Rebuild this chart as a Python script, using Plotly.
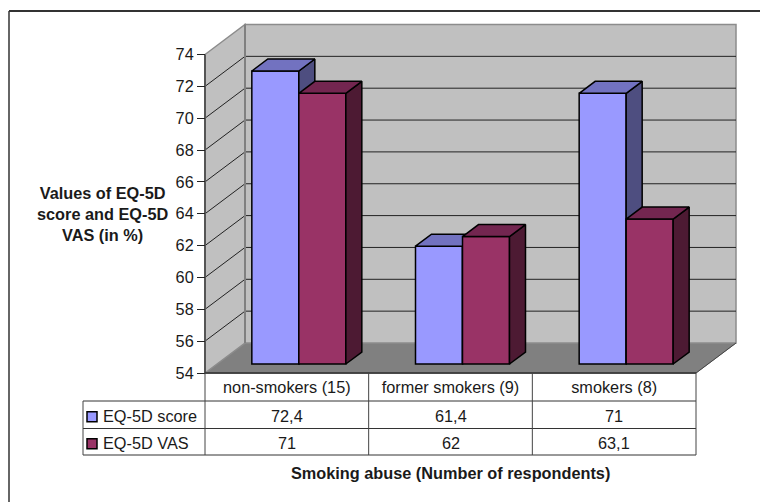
import plotly.graph_objects as go

categories = ["non-smokers (15)", "former smokers (9)", "smokers (8)"]
eq5d_score = [72.4, 61.4, 71]
eq5d_vas = [71, 62, 63.1]
series_names = ["EQ-5D score", "EQ-5D VAS"]
value_ticks = [54, 56, 58, 60, 62, 64, 66, 68, 70, 72, 74]

W, H = 760, 502
FRONT_LEFT, FRONT_RIGHT = 205, 696
FRONT_TOP, FRONT_BOTTOM = 54.5, 373
X_UNIT = (FRONT_RIGHT - FRONT_LEFT) / 3
Y_UNIT = (FRONT_BOTTOM - FRONT_TOP) / 20
FONT = "Liberation Sans"
TXT = "#1a1a1a"
TEXT_SIZE = 16.3

# oblique projection: one full unit of depth moves a point right and up
DEPTH_X = 40 / X_UNIT
DEPTH_Y = 30 / Y_UNIT
BAR_NEAR, BAR_FAR = 0.30, 0.70
BAR_W = 47 / X_UNIT


def px_x(px):
    return (px - FRONT_LEFT) / X_UNIT


def px_y(py):
    return 54 + (FRONT_BOTTOM - py) / Y_UNIT


def proj(x, y, depth):
    return x + DEPTH_X * depth, y + DEPTH_Y * depth


def polygon(points, fill, line="black", width=1.5, xaxis="x", yaxis="y"):
    xs = [p[0] for p in points] + [points[0][0]]
    ys = [p[1] for p in points] + [points[0][1]]
    return go.Scatter(x=xs, y=ys, mode="lines", fill="toself", fillcolor=fill,
                      line=dict(color=line, width=width), hoverinfo="skip",
                      showlegend=False, xaxis=xaxis, yaxis=yaxis)


def shape_poly(points, fill, line, width):
    path = "M" + " L".join(f"{x},{y}" for x, y in points) + " Z"
    return dict(type="path", path=path, xref="x", yref="y", layer="below",
                fillcolor=fill, line=dict(color=line, width=width))


def seg(x0, y0, x1, y1, color="black", width=1.0, layer="below"):
    return dict(type="line", x0=x0, y0=y0, x1=x1, y1=y1, xref="x", yref="y",
                layer=layer, line=dict(color=color, width=width))


shapes = []

# back wall, side wall and floor of the 3D box
y0, y1 = value_ticks[0], value_ticks[-1]
bl, tl = proj(0, y0, 1), proj(0, y1, 1)
br, tr = proj(3, y0, 1), proj(3, y1, 1)
shapes.append(shape_poly([(0, y0), bl, br, (3, y0)], "#808080", "#808080", 1))
shapes.append(shape_poly([bl, tl, tr, br], "#C0C0C0", "#8c8c8c", 1.5))
shapes.append(shape_poly([(0, y0), (0, y1), tl, bl], "#C0C0C0", "#8c8c8c", 1.5))

# gridlines run across the back wall and down the side wall
for v in value_ticks[1:-1]:
    shapes.append(seg(*proj(0, v, 1), *proj(3, v, 1), color="#222222", width=1))
for v in value_ticks[1:-1]:
    shapes.append(seg(0, v, *proj(0, v, 1), color="#222222", width=1))
shapes.append(seg(*bl, *tl, color="#808080", width=2))
shapes.append(seg(0, y0, 0, y1, color="#555555", width=2))
shapes.append(seg(0, y0, 3, y0, color="#444444", width=1.5))
shapes.append(seg(3, y0, *proj(3, y0, 1), color="#444444", width=1))

# data table below the floor
row_lines = [373, 401, 428.5, 455]
for i, ry in enumerate(row_lines):
    start = FRONT_LEFT if i == 0 else 83
    shapes.append(seg(px_x(start), px_y(ry), 3, px_y(ry), color="#333333", width=1, layer="above"))
for c in range(4):
    shapes.append(seg(c, px_y(373), c, px_y(455), color="#444444", width=1, layer="above"))
shapes.append(seg(px_x(83), px_y(401), px_x(83), px_y(455), color="#444444", width=1, layer="above"))

# the chart frame only shows along its top and left sides
shapes.append(dict(type="line", x0=9 / W, x1=1, y0=1 - 11 / H, y1=1 - 11 / H, xref="paper", yref="paper",
                   layer="below", line=dict(color="#333333", width=2)))
shapes.append(dict(type="line", x0=9 / W, x1=9 / W, y0=0, y1=1 - 11 / H, xref="paper", yref="paper",
                   layer="below", line=dict(color="#333333", width=1.5)))

fig = go.Figure()

colors = [("#9999FF", "#7272C0", "#4E4E80"), ("#993366", "#732650", "#4D1A33")]
axes = [("x", "y"), ("x2", "y2")]
for s, values in enumerate([eq5d_score, eq5d_vas]):
    front, top, side = colors[s]
    xa, ya = axes[s]
    lift = DEPTH_Y * BAR_NEAR
    centers = [i + 0.5 + DEPTH_X * BAR_NEAR + (s - 0.5) * BAR_W for i in range(3)]
    fig.add_trace(go.Bar(x=centers, y=[v - y0 for v in values], base=y0 + lift,
                         width=BAR_W, name=series_names[s], marker=dict(color=front, line=dict(color="black", width=1.5)),
                         hoverinfo="skip", showlegend=False, xaxis=xa, yaxis=ya))
    for c, v in zip(centers, values):
        left = c - BAR_W / 2
        right = c + BAR_W / 2
        d = BAR_FAR - BAR_NEAR
        near_l = (left, v + lift)
        near_r = (right, v + lift)
        far_l = proj(left, v + lift, d)
        far_r = proj(right, v + lift, d)
        base_r = (right, y0 + lift)
        base_far = proj(right, y0 + lift, d)
        fig.add_trace(polygon([near_r, base_r, base_far, far_r], side, xaxis=xa, yaxis=ya))
        fig.add_trace(polygon([near_l, near_r, far_r, far_l], top, xaxis=xa, yaxis=ya))

# legend keys inside the data table
for s in range(2):
    ry = (row_lines[s + 1] + row_lines[s + 2]) / 2 + 2
    fig.add_trace(go.Scatter(x=[px_x(92)], y=[px_y(ry)], mode="markers", hoverinfo="skip", showlegend=False,
                             marker=dict(symbol="square", size=10, color=colors[s][0],
                                         line=dict(color="black", width=1.5)),
                             xaxis="x2", yaxis="y2"))

annotations = []


def label(x, y, text, bold=False, anchor="center"):
    annotations.append(dict(x=x, y=y, xref="x", yref="y", text=f"<b>{text}</b>" if bold else text,
                            showarrow=False, xanchor=anchor, yanchor="middle",
                            font=dict(family=FONT, size=TEXT_SIZE, color=TXT)))


for s, values in enumerate([eq5d_score, eq5d_vas]):
    ry = (row_lines[s + 1] + row_lines[s + 2]) / 2 + 1.5
    label(px_x(101), px_y(ry), series_names[s], anchor="left")
    for i, v in enumerate(values):
        label(i + 0.5, px_y(ry), str(v).replace(".", ","))

label(px_x(102), px_y(214), "Values of EQ-5D<br>score and EQ-5D<br>VAS (in %)", bold=True)
label(px_x(450), px_y(473), "Smoking abuse (Number of respondents)", bold=True)

x_range = [px_x(0), px_x(W)]
y_range = [px_y(H), px_y(0)]

fig.update_layout(
    width=W, height=H, margin=dict(l=0, r=0, t=0, b=0),
    paper_bgcolor="white", plot_bgcolor="white",
    barmode="overlay", showlegend=False,
    shapes=shapes, annotations=annotations,
    xaxis=dict(range=x_range, domain=[0, 1], anchor="free", position=1 - FRONT_BOTTOM / H,
               showgrid=False, zeroline=False, showline=False,
               tickmode="array", tickvals=[0.5, 1.5, 2.5], ticktext=categories,
               ticks="", ticklabelstandoff=3,
               tickfont=dict(family=FONT, size=TEXT_SIZE, color=TXT)),
    yaxis=dict(range=y_range, domain=[0, 1], anchor="free", position=FRONT_LEFT / W,
               showgrid=False, zeroline=False, showline=False,
               tickmode="array", tickvals=value_ticks,
               ticks="outside", ticklen=8, tickcolor="#222222", tickwidth=1,
               tickfont=dict(family=FONT, size=TEXT_SIZE, color=TXT)),
    xaxis2=dict(range=x_range, overlaying="x", visible=False),
    yaxis2=dict(range=y_range, overlaying="y", visible=False),
)

fig.write_html("out.html", config={"displayModeBar": False})
